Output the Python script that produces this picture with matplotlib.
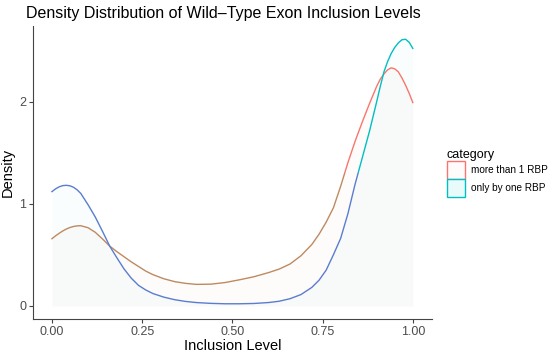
import matplotlib
matplotlib.use("Agg")
import matplotlib.pyplot as plt
from matplotlib.patches import Patch, Rectangle

plt.rcParams["font.family"] = ["Liberation Sans", "DejaVu Sans"]

# valores
nivel = [0.0, 0.01, 0.02, 0.03, 0.04, 0.05, 0.06, 0.07, 0.08, 0.10, 0.12, 0.14,
         0.16, 0.18, 0.20, 0.22, 0.24, 0.26, 0.28, 0.31, 0.34, 0.37, 0.40, 0.44,
         0.48, 0.52, 0.56, 0.60, 0.63, 0.66, 0.69, 0.72, 0.74, 0.76, 0.78, 0.80,
         0.82, 0.84, 0.86, 0.88, 0.90, 0.91, 0.92, 0.93, 0.94, 0.95, 0.96, 0.97,
         0.98, 0.99, 1.0]
dens_mas_uno = [0.657, 0.685, 0.71, 0.733, 0.752, 0.767, 0.777, 0.783, 0.784,
                0.765, 0.72, 0.655, 0.585, 0.53, 0.48, 0.43, 0.385, 0.34, 0.305,
                0.265, 0.237, 0.22, 0.21, 0.212, 0.228, 0.255, 0.285, 0.325,
                0.36, 0.41, 0.49, 0.60, 0.70, 0.82, 0.96, 1.17, 1.40, 1.61, 1.80,
                1.98, 2.15, 2.22, 2.27, 2.31, 2.33, 2.32, 2.29, 2.23, 2.16, 2.08,
                1.99]
dens_uno = [1.118, 1.145, 1.165, 1.177, 1.18, 1.175, 1.16, 1.135, 1.10, 0.99,
            0.87, 0.73, 0.585, 0.47, 0.36, 0.27, 0.20, 0.155, 0.12, 0.085, 0.06,
            0.043, 0.032, 0.024, 0.02, 0.02, 0.023, 0.032, 0.045, 0.07, 0.11,
            0.18, 0.25, 0.35, 0.50, 0.66, 0.90, 1.19, 1.45, 1.71, 2.0, 2.15,
            2.29, 2.39, 2.47, 2.53, 2.575, 2.605, 2.61, 2.58, 2.52]
categorias = ["more than 1 RBP", "only by one RBP"]
colores = ["#F8766D", "#00BFC4"]
colores_bajos = ["#BE8A60", "#5A7DD0"]  # tono de la línea en la parte baja

fig = plt.figure(figsize=(5.5, 3.55), dpi=100)
ax = fig.add_axes([0.06, 0.101, 0.725, 0.826])

corte = 1.3
for dens, c, cb in zip([dens_mas_uno, dens_uno], colores, colores_bajos):
    ax.fill_between(nivel, dens, 0, color=c, alpha=0.025, lw=0)
    baja, = ax.plot(nivel, dens, color=cb, lw=1.0)
    alta, = ax.plot(nivel, dens, color=c, lw=1.0)
    baja.set_clip_path(Rectangle((-1, -1), 3, 1 + corte, transform=ax.transData))
    alta.set_clip_path(Rectangle((-1, corte), 3, 5, transform=ax.transData))

ax.set_xlim(-0.0525, 1.0525)
ax.set_ylim(-0.1305, 2.7405)
ax.set_xticks([0, 0.25, 0.5, 0.75, 1.0])
ax.set_xticklabels(["0.00", "0.25", "0.50", "0.75", "1.00"])
ax.set_yticks([0, 1, 2])

for lado in ["top", "right"]:
    ax.spines[lado].set_visible(False)
for lado in ["left", "bottom"]:
    ax.spines[lado].set_color("#444444")
    ax.spines[lado].set_linewidth(0.8)
ax.tick_params(colors="#444444", labelcolor="#4D4D4D", labelsize=9,
               length=3, width=0.8, pad=2)

ax.set_xlabel("Inclusion Level", fontsize=10.5, labelpad=1)
ax.set_ylabel("Density", fontsize=10.5, labelpad=3)
fig.text(0.047, 0.962, "Density Distribution of Wild\u2013Type Exon Inclusion Levels",
         fontsize=11.5, va="center", ha="left")

manejadores = [
    Patch(facecolor="#FFFBFB", edgecolor=colores[0], lw=1.0),
    Patch(facecolor="#E8FAFA", edgecolor=colores[1], lw=1.0),
]
leg = fig.legend(manejadores, categorias, title="category",
                 loc="upper left", bbox_to_anchor=(0.812, 0.58),
                 frameon=False, fontsize=7.2, title_fontsize=9,
                 handlelength=1.8, handleheight=2.4, handletextpad=0.6,
                 labelspacing=0.0, borderaxespad=0, borderpad=0)
leg._legend_box.align = "left"

fig.savefig("out.png", dpi=100)
plt.close(fig)
